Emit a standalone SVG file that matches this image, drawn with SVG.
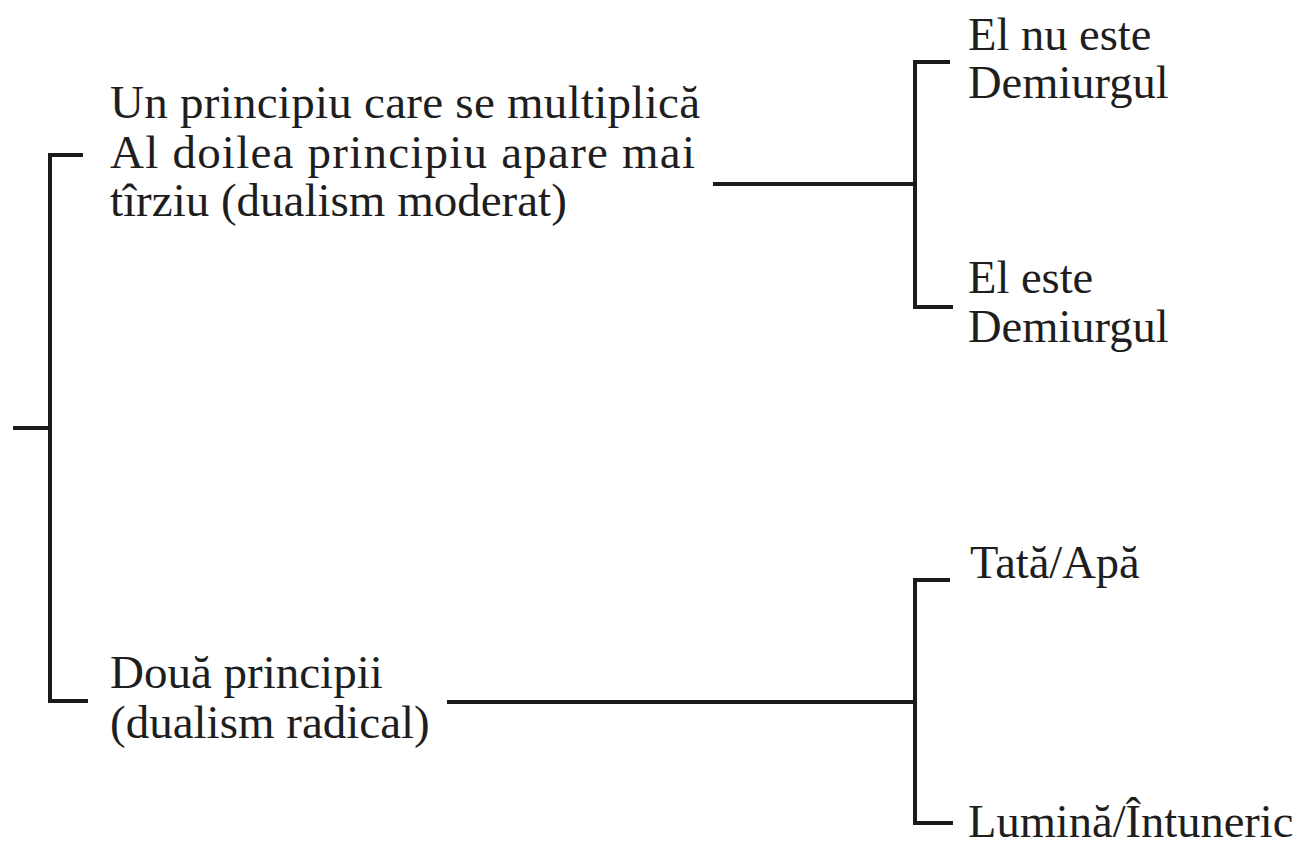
<svg xmlns="http://www.w3.org/2000/svg" width="1304" height="846" viewBox="0 0 1304 846">
<style>
text{font-family:'Liberation Serif','Times New Roman','DejaVu Serif',serif;font-size:47px;fill:#1e1e1e}
.r{font-size:46.5px}
.c{stroke:#1a1a1a;stroke-width:4;fill:none;stroke-linecap:butt}
</style>
<rect width="1304" height="846" fill="#ffffff"/>
<g id="connectors">
<path class="c" d="M13 428H50M83 155H50V701H88"/>
<path class="c" d="M713 184H915M950 62H915V307H953"/>
<path class="c" d="M447 702H915M950 580H915V823H953"/>
</g>
<g id="node-multiplica">
<text x="110" y="118" textLength="590" lengthAdjust="spacing">Un principiu care se multiplică</text>
<text x="110" y="168" textLength="585" lengthAdjust="spacing">Al doilea principiu apare mai</text>
<text x="110" y="216">tîrziu (dualism moderat)</text>
</g>
<g id="node-doua">
<text x="110" y="688">Două principii</text>
<text x="110" y="738">(dualism radical)</text>
</g>
<g id="node-nu-demiurg">
<text class="r" x="968" y="50">El nu este</text>
<text class="r" x="968" y="98">Demiurgul</text>
</g>
<g id="node-demiurg">
<text class="r" x="968" y="293">El este</text>
<text class="r" x="968" y="342">Demiurgul</text>
</g>
<g id="node-tata">
<text class="r" x="970" y="578">Tată/Apă</text>
</g>
<g id="node-lumina">
<text class="r" x="968" y="837">Lumină/Întuneric</text>
</g>
</svg>
